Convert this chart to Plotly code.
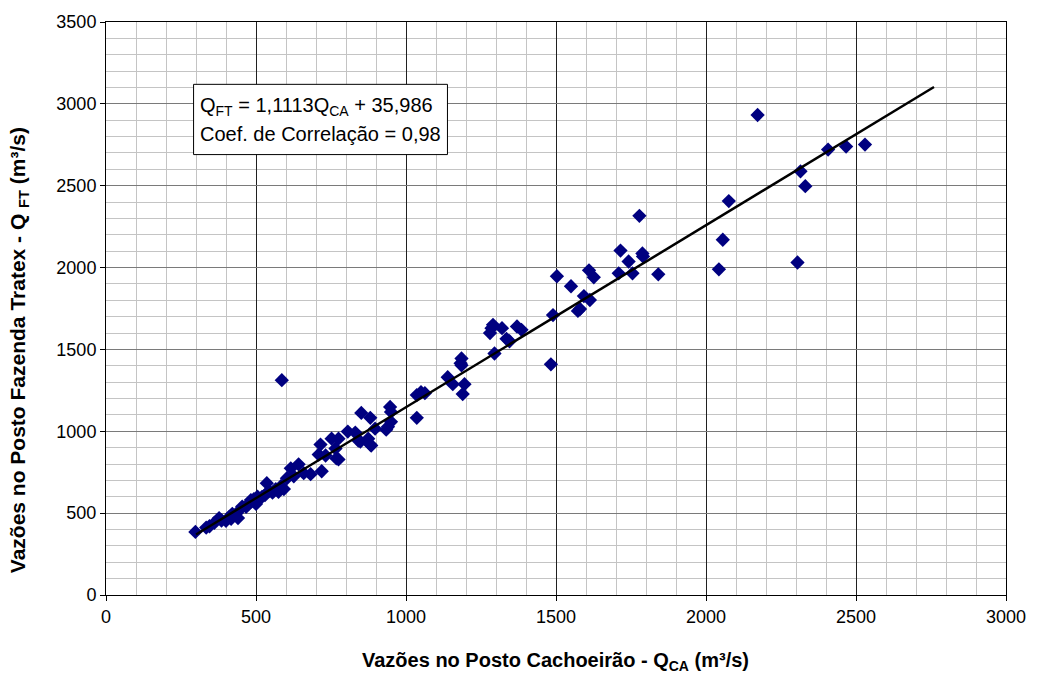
import plotly.graph_objects as go

# Observed flows (m³/s)
x_ca = [298, 334, 345, 361, 377, 385, 400, 410, 417, 421, 437, 440, 454, 467, 475,
        483, 493, 500, 505, 520, 530, 536, 543, 555, 566, 575, 583, 593, 603, 616,
        626, 642, 659, 682, 709, 715, 719, 732, 752, 765, 768, 775, 775, 806, 831,
        841, 848, 851, 874, 881, 881, 884, 897, 934, 940, 947, 950, 950, 1036, 1050,
        1063, 1036, 1139, 1156, 1182, 1185, 1185, 1189, 1195, 1280, 1285, 1290, 1295, 1320, 1335,
        1345, 1370, 1385, 1483, 1490, 1503, 1550, 1573, 1580, 1593, 1610, 1613, 1626, 1709, 1715,
        1742, 1755, 1778, 1788, 1790, 1841, 2043, 2056, 2076, 2172, 2305, 2315, 2331, 2407, 2467,
        2530, 586]
y_ft = [385, 412, 420, 440, 470, 455, 453, 475, 465, 496, 502, 470, 540, 538, 555,
        580, 586, 556, 600, 599, 610, 683, 635, 625, 647, 630, 665, 647, 713, 774,
        725, 798, 744, 738, 858, 919, 756, 852, 955, 895, 834, 828, 955, 998, 992,
        943, 937, 1112, 955, 919, 1082, 913, 1016, 1010, 1028, 1149, 1118, 1058, 1221, 1239,
        1233, 1082, 1330, 1288, 1415, 1403, 1445, 1227, 1288, 1600, 1630, 1650, 1475, 1630, 1565,
        1550, 1640, 1620, 1409, 1710, 1947, 1886, 1735, 1747, 1826, 1983, 1802, 1941, 1965, 2104,
        2037, 1965, 2316, 2086, 2068, 1959, 1989, 2170, 2406, 2932, 2031, 2588, 2497, 2721, 2739,
        2751, 1312]

# Linear trend from the chart's equation
slope = 1.1113
intercept = 35.986
trend_x = [300, 2760]
trend_y = [slope * v + intercept for v in trend_x]

x_ticks = [0, 500, 1000, 1500, 2000, 2500, 3000]
y_ticks = [0, 500, 1000, 1500, 2000, 2500, 3000, 3500]

FONT = "Liberation Sans, Arial, sans-serif"

fig = go.Figure()
fig.add_trace(go.Scatter(
    x=x_ca, y=y_ft, mode="markers",
    marker=dict(symbol="diamond", size=11, color="#000080",
                line=dict(width=0)),
    showlegend=False, hoverinfo="x+y"))
fig.add_trace(go.Scatter(
    x=trend_x, y=trend_y, mode="lines",
    line=dict(color="black", width=2.5),
    showlegend=False, hoverinfo="skip"))

axis_common = dict(
    showline=True, linecolor="black", linewidth=1, mirror=True,
    ticks="outside", ticklen=5, tickcolor="black", tickwidth=1,
    tickfont=dict(family=FONT, size=18, color="black"),
    zeroline=False, showgrid=True,
)

fig.update_layout(
    width=1038, height=677,
    margin=dict(l=106, r=28, t=16, b=82),
    paper_bgcolor="white", plot_bgcolor="white",
    font=dict(family=FONT, color="black"),
    xaxis=dict(range=[0, 3000], tickvals=x_ticks, gridcolor="#202020", gridwidth=1,
               minor=dict(dtick=100, tick0=0, showgrid=True, gridcolor="#c4c4c4",
                          gridwidth=1, ticks=""),
               **axis_common),
    yaxis=dict(range=[0, 3500], tickvals=y_ticks, gridcolor="#7a7a7a", gridwidth=1,
               minor=dict(dtick=100, tick0=0, showgrid=True, gridcolor="#c4c4c4",
                          gridwidth=1, ticks=""),
               **axis_common),
    shapes=[dict(type="rect", xref="paper", yref="paper",
                 x0=0.0973, x1=0.3794, y0=0.7686, y1=0.8912,
                 line=dict(color="black", width=1), fillcolor="white", layer="above")],
    annotations=[
        dict(xref="paper", yref="paper", x=0.1018, y=0.8532, xanchor="left", yanchor="middle",
             text="Q<sub>FT</sub> = 1,1113Q<sub>CA</sub> + 35,986", showarrow=False,
             font=dict(family=FONT, size=20, color="black")),
        dict(xref="paper", yref="paper", x=0.1018, y=0.8048, xanchor="left", yanchor="middle",
             text="Coef. de Correlação = 0,98", showarrow=False,
             font=dict(family=FONT, size=20, color="black")),
        dict(xref="paper", yref="paper", x=0.499, y=-0.1157, xanchor="center", yanchor="middle",
             text="<b>Vazões no Posto Cachoeirão - Q<sub>CA</sub> (m³/s)</b>", showarrow=False,
             font=dict(family=FONT, size=20, color="black")),
        dict(xref="paper", yref="paper", x=-0.0973, y=0.428, xanchor="center", yanchor="middle",
             textangle=-90,
             text="<b>Vazões no Posto Fazenda Tratex - Q <sub>FT</sub> (m³/s)</b>", showarrow=False,
             font=dict(family=FONT, size=21, color="black")),
    ],
)

fig.write_html("out.html")
